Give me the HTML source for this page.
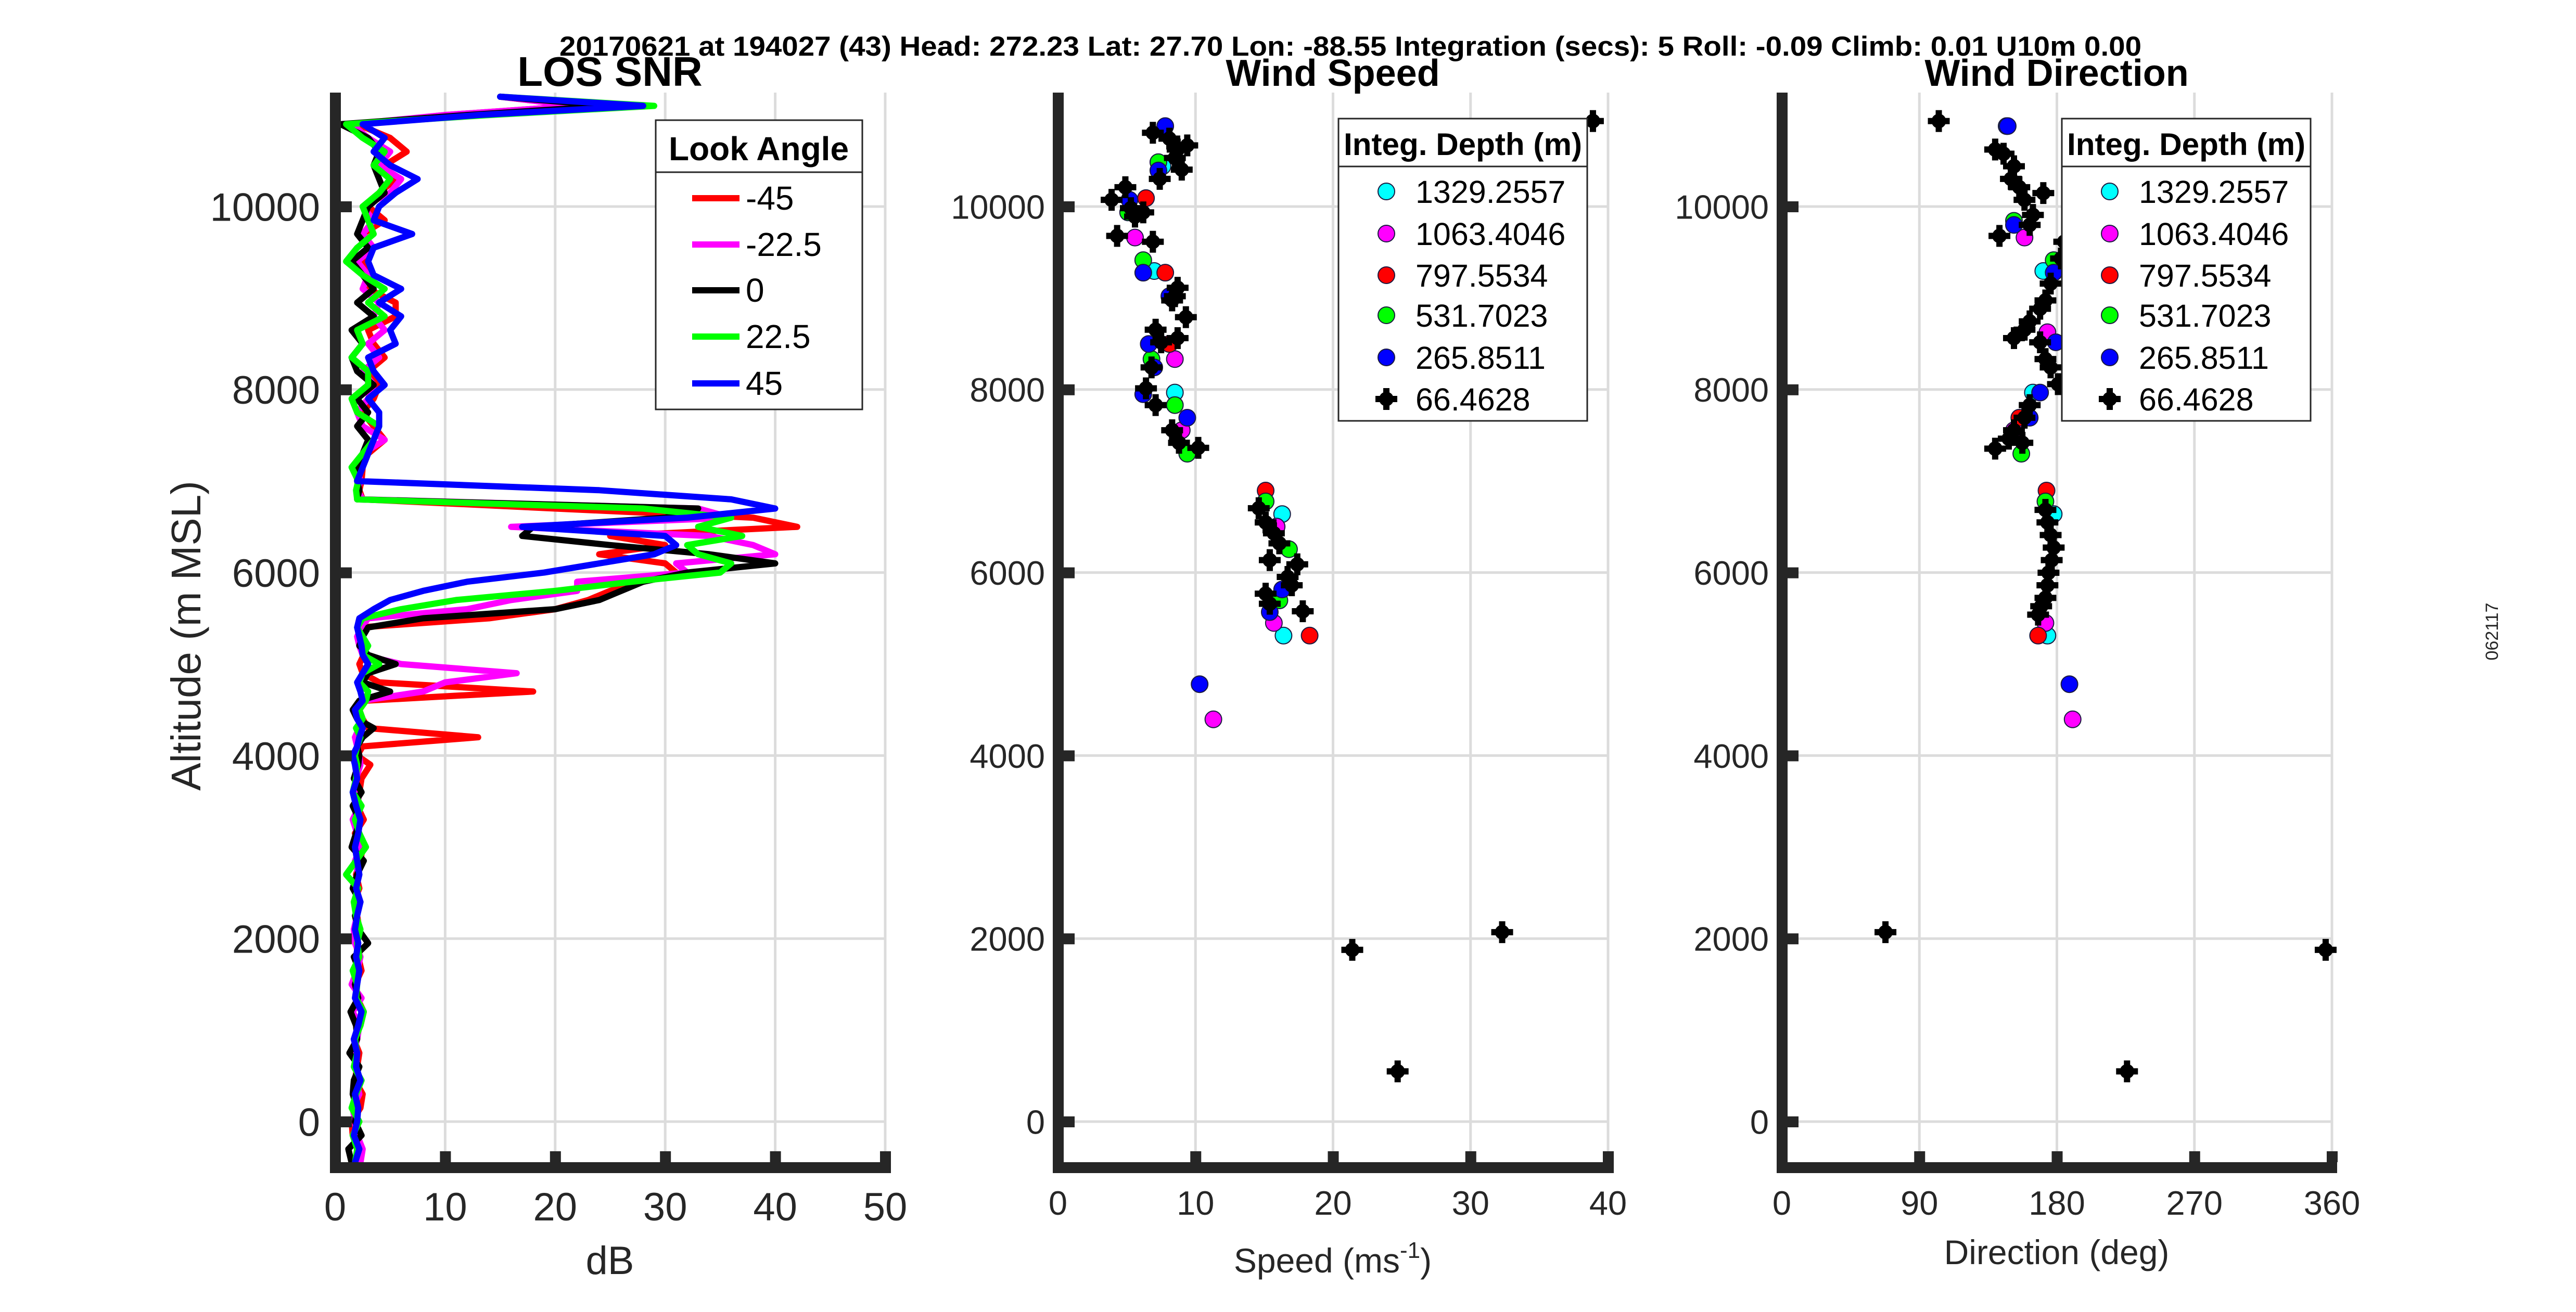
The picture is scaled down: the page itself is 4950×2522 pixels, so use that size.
<!DOCTYPE html>
<html><head><meta charset="utf-8">
<style>
html,body{margin:0;padding:0;background:#fff;}
svg{display:block;font-family:"Liberation Sans",Arial,sans-serif;}
</style></head>
<body>
<svg id="fig" width="4950" height="2522" viewBox="0 0 4950 2522" xmlns="http://www.w3.org/2000/svg">
<rect width="4950" height="2522" fill="#fff"/>
<text x="2595" y="107" text-anchor="middle" font-size="53" font-weight="bold" textLength="3040" lengthAdjust="spacingAndGlyphs">20170621 at 194027 (43)  Head: 272.23  Lat: 27.70  Lon: -88.55  Integration (secs): 5  Roll: -0.09  Climb: 0.01  U10m 0.00</text>
<text x="1172" y="165" text-anchor="middle" font-size="80" font-weight="bold">LOS SNR</text>
<text x="2561" y="165" text-anchor="middle" font-size="72" font-weight="bold">Wind Speed</text>
<text x="3952" y="165" text-anchor="middle" font-size="72" font-weight="bold">Wind Direction</text>
<text transform="translate(385,1222) rotate(-90)" text-anchor="middle" font-size="80" fill="#262626">Altitude (m MSL)</text>
<text x="1172" y="2449" text-anchor="middle" font-size="76" fill="#262626">dB</text>
<text x="2561" y="2446" text-anchor="middle" font-size="66" fill="#262626">Speed (ms<tspan dy="-28" font-size="44">-1</tspan><tspan dy="28">)</tspan></text>
<text x="3952" y="2430" text-anchor="middle" font-size="66" fill="#262626">Direction (deg)</text>
<text transform="translate(4800,1214) rotate(-90)" text-anchor="middle" font-size="34" fill="#262626">062117</text>
<g id="layer"></g>
</svg>
<script>
// ---------- data ----------
const snrAltitudes=[-450,-300,-150,0,150,300,450,600,750,900,1050,1200,1350,1500,1650,1800,1950,2100,2250,2400,2550,2700,2850,3000,3150,3300,3450,3600,3750,3900,
4000,4100,4200,4300,4400,4500,4600,4700,4800,4900,5000,5100,5200,5300,5400,5500,5600,5700,5800,5900,6000,6100,6200,6300,6400,6500,6600,6700,6800,6900,7000,
7150,7300,7450,7600,7750,7900,8050,8200,8350,8500,8650,8800,8950,9100,9250,9400,9550,9700,9850,10000,10150,10300,10450,10600,10750,10900,
11000,11100,11200];
const snrM45=[2,2.2,1.6,1.5,2.3,2.5,1.8,2.0,2.2,1.7,2.3,2.6,2.0,1.8,2.4,2.1,1.9,2.2,2.0,1.7,2.2,1.9,2.3,2.5,1.8,2.6,2.0,2.2,2.4,3.2,
2.0,2.5,13.0,3.0,2.5,2.2,2.8,18.0,4.0,2.5,2.2,2.6,2.3,2.4,2.2,14.0,20.0,23.0,25.0,28.0,31.0,30.0,24.0,30.0,25.0,42.0,38.0,20.0,2.5,2.2,2.4,
2.5,3.0,4.5,3.5,2.5,3.5,4.0,3.0,4.5,3.5,3.0,5.5,5.5,3.0,3.5,2.5,3.5,2.5,4.5,3.0,4.0,5.5,4.5,6.5,5.0,2.0,
10,22,15];
const snrM22=[2.3,2.5,2.0,1.8,1.6,2.2,1.9,2.1,1.7,2.0,2.2,1.6,2.4,1.5,2.0,2.3,1.8,1.7,2.0,2.2,1.9,2.1,1.8,2.4,2.0,1.6,2.2,2.0,1.9,2.3,
2.2,2.0,1.8,2.2,2.5,2.0,2.5,8.0,10.0,16.5,6.0,2.5,2.2,2.0,2.4,3.0,12.0,16.0,22.0,22.0,32.0,31.0,40.0,38.0,34.0,16.0,36.0,33.0,2.5,2.0,2.3,
2.0,2.5,4.5,2.5,2.0,3.0,3.5,2.5,4.0,3.0,4.5,3.5,4.0,2.5,3.0,2.0,3.5,2.5,3.5,2.5,5.0,6.0,4.0,5.0,3.0,1.5,
10,22,15];
const snr0=[1.5,1.2,2.4,1.8,2.0,1.6,1.7,2.2,1.3,2.0,1.9,1.4,2.1,1.8,2.2,1.7,3.0,2.1,1.8,2.3,1.6,2.0,2.6,1.5,1.9,2.2,1.6,2.4,1.7,2.1,
2.2,2.0,2.5,3.5,2.0,1.6,2.2,5.0,2.5,3.0,5.5,3.0,2.2,2.5,3.0,8.0,20.0,24.0,26.0,28.0,32.0,40.0,34.0,25.0,17.0,18.0,30.0,33.0,2.0,2.2,2.0,
2.0,2.5,3.0,2.0,3.0,2.0,3.5,2.0,1.5,2.5,1.5,3.5,2.0,3.5,2.5,1.5,3.0,2.0,2.5,3.0,4.5,4.0,3.5,4.0,3.0,0.5,
12,25,15];
const snrP22=[1.8,2.0,1.6,2.2,1.5,1.9,2.4,1.7,2.0,1.8,2.3,2.6,1.9,2.0,1.6,2.2,2.0,2.3,1.9,1.7,2.1,1.0,1.9,2.8,2.2,1.8,2.4,1.6,1.9,2.0,
1.8,2.0,2.3,1.9,2.5,2.2,2.8,3.0,2.2,2.5,4.0,2.5,3.0,2.5,2.0,2.5,6.0,11.0,20.0,27.0,35.0,36.0,33.0,32.0,37.0,33.0,36.0,28.0,2.0,1.9,2.1,
1.5,2.5,3.5,4.0,2.0,1.5,3.0,3.0,1.5,2.5,2.0,4.5,3.0,4.5,2.5,1.0,2.0,3.5,3.0,2.5,4.0,5.0,3.5,4.5,2.5,1.0,
14,29,15];
const snrP45=[1.8,2.2,1.7,2.0,2.1,1.8,2.3,1.9,2.0,1.7,2.1,2.4,1.8,2.0,2.2,1.9,2.1,1.8,2.0,2.3,1.9,2.2,2.0,1.8,2.1,2.3,1.9,1.6,2.0,1.8,
1.6,2.0,2.2,2.5,2.0,1.8,2.5,2.3,2.0,2.5,3.0,2.5,2.4,2.2,2.0,2.2,3.5,5.0,8.0,12.0,19.0,24.0,29.0,31.0,30.0,17.0,32.0,40.0,36.0,24.0,2.0,
2.5,3.0,3.5,4.0,4.0,3.0,4.5,3.5,3.0,5.5,5.0,6.0,4.0,6.0,3.5,3.0,3.5,7.0,3.5,4.0,5.5,7.5,5.0,3.5,4.5,2.5,
13,28,15];
const snrLabels=["-45","-22.5","0","22.5","45"];
const snrColors=["#ff0000","#ff00ff","#000000","#00ff00","#0000ff"];

const depthLabels=["1329.2557","1063.4046","797.5534","531.7023","265.8511","66.4628"];
const depthColors=["#00ffff","#ff00ff","#ff0000","#00ff00","#0000ff","#000000"];

const cyanSpeed=[8.5,7.0,16.3,16.4,7.6];
const cyanSpeedAlt=[7967,9295,6639,5311,10440];
const magentaSpeed=[5.6,11.3,15.7,8.5,9.0,15.9];
const magentaSpeedAlt=[9661,4396,5449,8333,7555,6502];
const redSpeed=[7.8,18.3,15.1,6.4,8.1];
const redSpeedAlt=[9277,5311,6896,10092,8498];
const greenSpeed=[6.2,9.4,8.5,7.3,15.1,16.8,16.1,5.1,6.8];
const greenSpeedAlt=[9414,7299,7830,10485,6777,6255,5696,9936,8333];
const blueSpeed=[7.8,6.2,10.3,6.2,9.4,8.1,7.0,6.6,15.4,16.3,5.2,7.3];
const blueSpeedAlt=[10879,9277,4780,7949,7692,9020,8242,8498,5568,5815,10073,10394];
const blackSpeed=[6.9,8.1,8.7,9.4,7.4,8.5,9.0,3.9,4.9,5.3,4.3,6.9,5.6,6.2,8.7,8.3,9.3,8.5,7.1,7.5,8.7,6.8,6.4,7.1,8.3,8.8,10.2,14.6,15.1,15.7,16.1,15.4,16.7,17.4,17.0,15.1,15.4,17.8,21.4,32.3,24.7,38.9];
const blackSpeedAlt=[10806,10742,10623,10668,10302,10531,10403,10073,10211,9982,9679,9615,9890,9936,9112,8974,8791,9020,8654,8516,8562,8242,8013,7830,7555,7418,7363,6703,6548,6429,6319,6136,5952,6090,5861,5769,5659,5577,1877,2070,549,10934];

const cyanDir=[171.1,164.3,173.8,147.1,177.9];
const cyanDirAlt=[9295,7967,5311,10879,6639];
const magentaDir=[158.8,190.3,172.5,173.8,151.9];
const magentaDirAlt=[9661,4396,5449,8626,7555];
const redDir=[167.7,173.2,155.4];
const redDirAlt=[5311,6896,7692];
const greenDir=[156.7,177.9,151.9,172.5];
const greenDirAlt=[7299,9414,9844,6777];
const blueDir=[147.8,188.2,177.9,169.0,179.3,151.9,162.2];
const blueDirAlt=[10879,4780,9277,7967,8516,9799,7692];
const blackDir=[102.7,67.8,355.9,225.9,139.6,139.6,145.1,149.9,155.4,158.8,164.3,142.4,162.2,171.1,151.9,184.8,182.7,172.5,175.9,169.0,162.2,158.8,151.9,169.0,172.5,175.9,180.7,162.2,158.8,151.9,148.5,157.4,172.5,173.8,175.9,177.9,176.6,174.5,173.8,172.5,169.7,167.7];
const blackDirAlt=[10934,2070,1877,549,7354,10623,10577,10302,10211,10073,9908,9679,9799,10147,10440,9615,9432,8974,9158,8883,8745,8654,8562,8516,8333,8242,8059,7830,7692,7555,7463,7418,6685,6548,6410,6273,6136,5998,5861,5723,5632,5540];

const altTicks=[0,2000,4000,6000,8000,10000];
const snrTicks=[0,10,20,30,40,50];
const speedTicks=[0,10,20,30,40];
const dirTicks=[0,90,180,270,360];

// ---------- scales ----------
const NS="http://www.w3.org/2000/svg";
const layer=document.getElementById('layer');
const yS=v=>2156-v*0.1759;
const xSnr=v=>644+v*21.14;
const xSpd=v=>2033+v*26.425;
const xDir=v=>3424+v*(1057/360);
function mk(tag,attrs,parent){const e=document.createElementNS(NS,tag);for(const k in attrs)e.setAttribute(k,attrs[k]);(parent||layer).appendChild(e);return e;}

function frame(name,x0,x1,xTicks,xfn,tickFont,labelRight){
  const g=mk('g',{});
  
  
  const yTop=178,yBot=2245;
  xTicks.forEach(t=>{if(t===0)return;const x=xfn(t);const l=mk('line',{x1:x,x2:x,y1:yTop,y2:yBot,stroke:'#dcdcdc','stroke-width':5},g);
    
    });
  altTicks.forEach(t=>{const y=yS(t);const l=mk('line',{x1:x0,x2:x1,y1:y,y2:y,stroke:'#dcdcdc','stroke-width':5},g);
    
    });
  return g;
}
function frameFront(name,x0,x1,xTicks,xfn,xFont,yFont,yRight,xLabY){
  const g=mk('g',{});
  
  
  mk('rect',{x:x0-10,y:178,width:21,height:2077,fill:'#262626'},g);
  mk('rect',{x:x0-10,y:2234,width:x1-x0+21,height:21,fill:'#262626'},g);
  xTicks.forEach(t=>{const x=xfn(t);
    mk('rect',{x:x-10,y:2213,width:21,height:21,fill:'#262626'},g);
    const tx=mk('text',{x:x,y:xLabY,'text-anchor':'middle','font-size':xFont,fill:'#262626'},g);tx.textContent=t;
    
    });
  altTicks.forEach(t=>{const y=yS(t);
    mk('rect',{x:x0+11,y:y-10,width:21,height:21,fill:'#262626'},g);
    const tx=mk('text',{x:yRight,y:y+yFont*0.36,'text-anchor':'end','font-size':yFont,fill:'#262626'},g);tx.textContent=t;
    
    });
}

// grids
frame('snr',644,1701,snrTicks,xSnr);
frame('speed',2033,3090,speedTicks,xSpd);
frame('direction',3424,4480,dirTicks,xDir);

// SNR lines
const snrSeries=[snrM45,snrM22,snr0,snrP22,snrP45];
snrSeries.forEach((vals,i)=>{
  const pts=vals.map((v,j)=>xSnr(v).toFixed(1)+','+yS(snrAltitudes[j]).toFixed(1)).join(' ');
  const pl=mk('polyline',{points:pts,fill:'none',stroke:snrColors[i],'stroke-width':12,'stroke-linejoin':'round','stroke-linecap':'round'});
  
  
});

function circ(x,y,col,name){
  const c=mk('circle',{cx:x,cy:y,r:16,fill:col,stroke:'#1a1a40','stroke-width':2});
  
  
}
function plusMark(x,y,name){
  const g=mk('g',{});
  
  
  mk('circle',{cx:x,cy:y,r:14,fill:'#000'},g);
  mk('rect',{x:x-21,y:y-6,width:42,height:12,fill:'#000'},g);
  mk('rect',{x:x-6,y:y-21,width:12,height:42,fill:'#000'},g);
}
const spdSets=[[cyanSpeed,cyanSpeedAlt],[magentaSpeed,magentaSpeedAlt],[redSpeed,redSpeedAlt],[greenSpeed,greenSpeedAlt],[blueSpeed,blueSpeedAlt]];
spdSets.forEach((s,i)=>s[0].forEach((v,j)=>circ(xSpd(v),yS(s[1][j]),depthColors[i],'speed-point-'+depthLabels[i])));
blackSpeed.forEach((v,j)=>plusMark(xSpd(v),yS(blackSpeedAlt[j]),'speed-point-66.4628'));
const dirSets=[[cyanDir,cyanDirAlt],[magentaDir,magentaDirAlt],[redDir,redDirAlt],[greenDir,greenDirAlt],[blueDir,blueDirAlt]];
dirSets.forEach((s,i)=>s[0].forEach((v,j)=>circ(xDir(v),yS(s[1][j]),depthColors[i],'direction-point-'+depthLabels[i])));
blackDir.forEach((v,j)=>plusMark(xDir(v),yS(blackDirAlt[j]),'direction-point-66.4628'));

// axes on top
frameFront('snr',644,1701,snrTicks,xSnr,76,76,615,2346);
frameFront('speed',2033,3090,speedTicks,xSpd,65,65,2008,2335);
frameFront('direction',3424,4480,dirTicks,xDir,65,65,3399,2335);

// legend 1
(function(){
  const g=mk('g',{});
  
  
  mk('rect',{x:1260,y:231,width:397,height:556,fill:'#fff',stroke:'#262626','stroke-width':3},g);
  mk('line',{x1:1260,x2:1657,y1:331,y2:331,stroke:'#262626','stroke-width':3},g);
  const t=mk('text',{x:1458,y:308,'text-anchor':'middle','font-size':64,'font-weight':'bold'},g);t.textContent='Look Angle';
  const ys=[381,470,558,647,737];
  snrLabels.forEach((lab,i)=>{
    const e=mk('g',{},g);
    
    
    mk('line',{x1:1330,x2:1421,y1:ys[i],y2:ys[i],stroke:snrColors[i],'stroke-width':12},e);
    const tx=mk('text',{x:1433,y:ys[i]+22,'font-size':64,fill:'#000'},e);tx.textContent=lab;
  });
})();
function depthLegend(x0,name){
  const g=mk('g',{});
  
  
  mk('rect',{x:x0,y:228,width:478,height:581,fill:'#fff',stroke:'#262626','stroke-width':3},g);
  mk('line',{x1:x0,x2:x0+478,y1:320,y2:320,stroke:'#262626','stroke-width':3},g);
  const t=mk('text',{x:x0+239,y:298,'text-anchor':'middle','font-size':60,'font-weight':'bold',textLength:458,lengthAdjust:'spacingAndGlyphs'},g);t.textContent='Integ. Depth (m)';
  const ys=[368,449,529,606,687,767];
  depthLabels.forEach((lab,i)=>{
    const e=mk('g',{},g);
    
    
    const mx=x0+92;
    if(i<5){mk('circle',{cx:mx,cy:ys[i],r:16,fill:depthColors[i],stroke:'#1a1a40','stroke-width':2},e);}
    else{mk('circle',{cx:mx,cy:ys[i],r:14,fill:'#000'},e);mk('rect',{x:mx-21,y:ys[i]-6,width:42,height:12,fill:'#000'},e);mk('rect',{x:mx-6,y:ys[i]-21,width:12,height:42,fill:'#000'},e);}
    const tx=mk('text',{x:x0+148,y:ys[i]+22,'font-size':61,fill:'#000'},e);tx.textContent=lab;
  });
}
depthLegend(2572,'speed-legend');
depthLegend(3962,'direction-legend');
</script>
</body></html>
